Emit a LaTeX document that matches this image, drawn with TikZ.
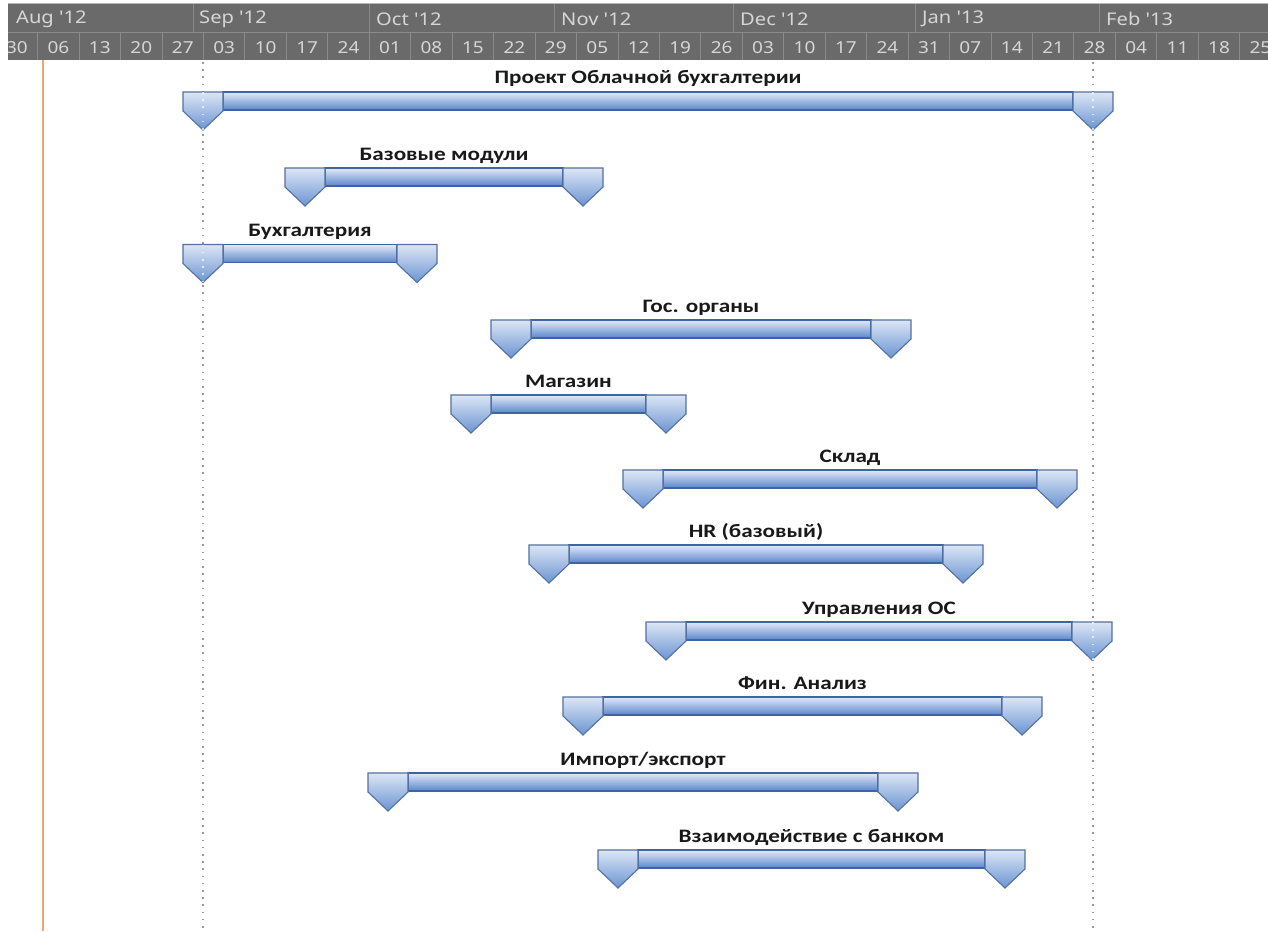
\documentclass[tikz,border=0pt]{standalone}
\usepackage{fontspec}
\newfontfamily\hdrfont{Noto Sans}[FakeStretch=1.15]
\newfontfamily\barfont{Carlito}[FakeStretch=1.22]
\definecolor{hdrbg}{HTML}{6A6A6A}
\definecolor{hdrline}{HTML}{8A8A8A}
\definecolor{hdrtop}{HTML}{B8B8B8}
\definecolor{hdrtext}{HTML}{D6D6D6}
\definecolor{capedge}{HTML}{55719E}
\definecolor{captop}{HTML}{DCE6F5}
\definecolor{capbot}{HTML}{6A94D2}
\definecolor{bodyedge}{HTML}{3F64A3}
\definecolor{bodytop}{HTML}{E4EAF8}
\definecolor{bodymid}{HTML}{BACCEA}
\definecolor{bodybot}{HTML}{5A86CB}
\definecolor{todayline}{HTML}{E9A86E}
\definecolor{dotgray}{HTML}{9A9A9A}
\tikzset{
  monthlabel/.style={anchor=west, text=hdrtext, font=\hdrfont\fontsize{17.5}{19}\selectfont, inner sep=0pt},
  daylabel/.style={anchor=center, text=hdrtext, font=\hdrfont\fontsize{16.5}{18}\selectfont, inner sep=0pt},
  barlabel/.style={anchor=base, text=black!90, font=\barfont\bfseries\fontsize{19}{21}\selectfont, inner sep=0pt},
  capshape/.style={top color=captop, bottom color=capbot, draw=capedge, line width=1.1pt, line join=miter},
  bodyshape/.style={top color=bodytop, middle color=bodymid, bottom color=bodybot, draw=bodyedge, line width=1.1pt},
  dotline/.style={draw=dotgray, line width=1.6pt, dash pattern=on 1.6pt off 5.6pt},
  nowline/.style={draw=todayline, line width=2pt},
  hline/.style={draw=hdrline, line width=1pt}
}
\newcommand\ganttbar[5]{%
  \pgfmathsetmacro\gl{#2}\pgfmathsetmacro\gr{#3}\pgfmathsetmacro\gy{#4}%
  \shade[bodyshape] (\gl+40,\gy) rectangle (\gr-40,\gy+18);
  \shade[capshape] (\gl,\gy) -- (\gl+40,\gy) -- (\gl+40,\gy+19) -- (\gl+20,\gy+38) -- (\gl,\gy+19) -- cycle;
  \shade[capshape] (\gr-40,\gy) -- (\gr,\gy) -- (\gr,\gy+19) -- (\gr-20,\gy+38) -- (\gr-40,\gy+19) -- cycle;
  \node[barlabel] (#1) at ({(\gl+\gr)/2},\gy-8) {#5};
}
\begin{document}
\begin{tikzpicture}[x=1pt,y=-1pt]
\useasboundingbox (0,0) rectangle (1268,931);
\fill[white] (0,0) rectangle (1268,931);
% header
\fill[hdrbg] (8,3) rectangle (1268,60);
\draw[draw=hdrtop, line width=1pt] (8,3.5) -- (1268,3.5);
\draw[hline] (8,33) -- (1268,33);
\foreach \x in {193,369,554,733,915,1099} \draw[hline] (\x,4) -- (\x,33);
\foreach \k in {-4,...,25} \draw[hline] ({203.5+41.45*\k},33) -- ({203.5+41.45*\k},60);
\begin{scope}
\clip (8,3) rectangle (1268,60);
\node[monthlabel] (mAug) at (16,19) {Aug '12};
\node[monthlabel] (mSep) at (199,19) {Sep '12};
\node[monthlabel] (mOct) at (376,19) {Oct '12};
\node[monthlabel] (mNov) at (561,19) {Nov '12};
\node[monthlabel] (mDec) at (740,19) {Dec '12};
\node[monthlabel] (mJan) at (922,19) {Jan '13};
\node[monthlabel] (mFeb) at (1106,19) {Feb '13};
\foreach \d [count=\i from -5] in {30,06,13,20,27,03,10,17,24,01,08,15,22,29,05,12,19,26,03,10,17,24,31,07,14,21,28,04,11,18,25}
  \node[daylabel] (d\i) at ({203.5+41.45*\i+20.7},47.5) {\d};
\end{scope}
% vertical lines
\draw[nowline] (42.5,60) -- (42.5,931);
\draw[dotline] (203,62) -- (203,931);
\draw[dotline] (1093,62) -- (1093,931);
% bars
\ganttbar{b1}{183}{1113}{92}{Проект Облачной бухгалтерии}
\ganttbar{b2}{285}{603}{168}{Базовые модули}
\ganttbar{b3}{183}{437}{244.5}{Бухгалтерия}
\ganttbar{b4}{491}{911}{320}{Гос. органы}
\ganttbar{b5}{451}{686}{395}{Магазин}
\ganttbar{b6}{623}{1077}{470}{Склад}
\ganttbar{b7}{529}{983}{545}{HR (базовый)}
\ganttbar{b8}{646}{1112}{622}{Управления ОС}
\ganttbar{b9}{563}{1042}{697}{Фин. Анализ}
\ganttbar{b10}{368}{918}{773}{Импорт/экспорт}
\ganttbar{b11}{598}{1025}{850}{Взаимодействие с банком}
% dotted lines visible over caps
\draw[draw=white, opacity=0.7, line width=1.4pt, dash pattern=on 1.6pt off 5.6pt] (203,92) -- (203,130);
\draw[draw=white, opacity=0.7, line width=1.4pt, dash pattern=on 1.6pt off 5.6pt] (203,244.5) -- (203,282);
\draw[draw=white, opacity=0.7, line width=1.4pt, dash pattern=on 1.6pt off 5.6pt] (1093,92) -- (1093,130);
\draw[draw=white, opacity=0.7, line width=1.4pt, dash pattern=on 1.6pt off 5.6pt] (1093,622) -- (1093,660);
\end{tikzpicture}
\end{document}
